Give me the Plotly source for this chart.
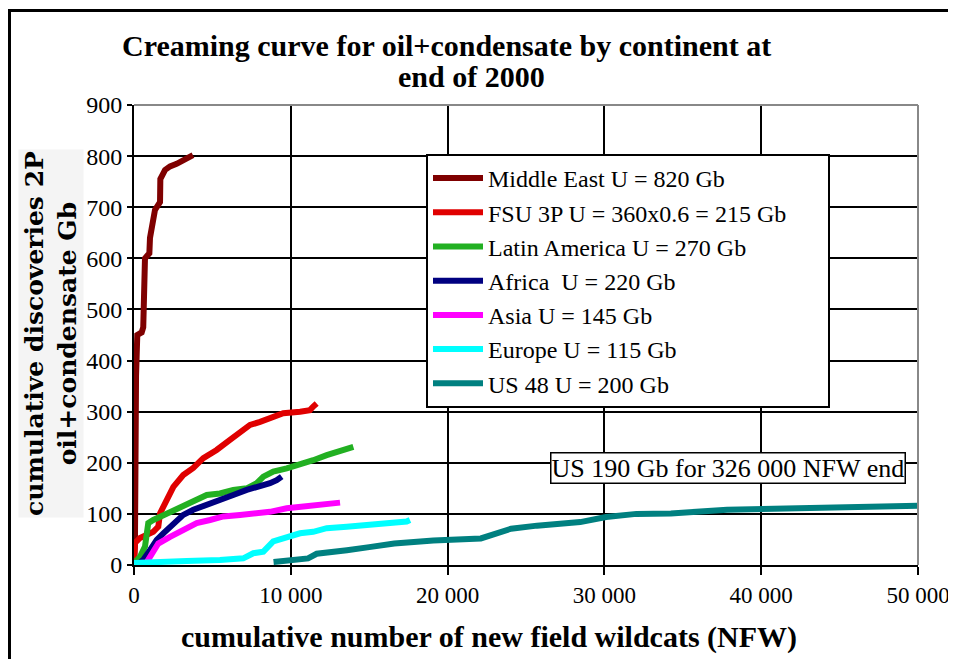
import plotly.graph_objects as go

# ---- data ----
me_x = [0, 60, 130, 150, 210, 490, 590, 700, 980, 1020, 1340, 1660, 1680, 1980, 2300, 2720, 3040, 3440, 3760]
me_y = [5, 40, 370, 400, 450, 455, 465, 600, 610, 640, 695, 710, 755, 773, 780, 785, 790, 795, 802]

fsu_x = [0, 64, 383, 810, 1230, 1550, 1660, 2085, 2510, 3140, 3780, 4420, 5270, 6120, 6760, 7400, 8040, 8880, 9520, 10590, 11220, 11430, 11650]
fsu_y = [6, 43, 53, 59, 65, 75, 101, 127, 153, 176, 190, 209, 225, 245, 261, 274, 280, 290, 297, 300, 303, 310, 316]

lat_x = [0, 383, 700, 910, 1230, 2085, 2930, 3780, 4640, 5480, 6330, 7190, 7830, 8250, 8880, 9740, 10590, 11430, 12290, 12930, 13350, 13990]
lat_y = [4, 16, 36, 82, 88, 101, 114, 127, 137, 140, 147, 150, 160, 173, 183, 189, 196, 205, 215, 222, 225, 231]

afr_x = [170, 590, 1020, 1450, 1870, 2510, 3140, 3780, 4640, 5480, 6330, 7190, 8040, 8670, 9100, 9420]
afr_y = [0, 10, 29, 49, 62, 82, 98, 108, 117, 127, 137, 147, 153, 160, 166, 173]

asia_x = [700, 810, 1130, 1550, 2300, 3140, 4000, 4850, 5700, 6760, 7610, 8670, 9740, 10590, 11430, 12290, 13140]
asia_y = [0, 6, 20, 42, 55, 68, 82, 88, 95, 98, 101, 104, 111, 114, 117, 121, 122]

eur_x = [0, 1230, 3360, 5480, 6970, 7610, 8250, 8880, 9740, 10590, 11430, 12290, 13570, 14840, 16120, 17390, 17600]
eur_y = [4, 6, 8, 10, 13, 23, 26, 46, 55, 62, 65, 72, 75, 78, 82, 85, 88]

us_x = [8900, 9700, 10600, 11100, 11650, 13000, 13580, 15000, 16600, 19090, 20500, 22120, 24050, 25700, 28460, 30110, 32040, 34240, 37820, 40580, 42230, 45260, 48020, 50000]
us_y = [6, 8, 12, 13, 22, 26, 29, 35, 42, 48, 50, 52, 71, 77, 84, 94, 100, 101, 108, 110, 112, 112, 116, 116]

names = [
    "Middle East U = 820 Gb",
    "FSU 3P U = 360x0.6 = 215 Gb",
    "Latin America U = 270 Gb",
    "Africa  U = 220 Gb",
    "Asia U = 145 Gb",
    "Europe U = 115 Gb",
    "US 48 U = 200 Gb",
]
colors = ["#7f0000", "#e00000", "#22b022", "#000080", "#ff00ff", "#00ffff", "#008080"]
series = [(me_x, me_y), (fsu_x, fsu_y), (lat_x, lat_y), (afr_x, afr_y),
          (asia_x, asia_y), (eur_x, eur_y), (us_x, us_y)]

x_tickvals = [0, 10000, 20000, 30000, 40000, 50000]
x_ticktext = ["0", "10 000", "20 000", "30 000", "40 000", "50 000"]
y_tickvals = [0, 100, 200, 300, 400, 500, 600, 700, 800, 900]

SERIF = "Liberation Serif"

fig = go.Figure()
for i, ((xs, ys), nm, c) in enumerate(zip(series, names, colors)):
    # trailing no-break spaces on the longest entry widen the legend box like the original
    label = nm + "\u00a0" * 6 if i == 1 else nm
    fig.add_trace(go.Scatter(x=xs, y=ys, name=label, mode="lines",
                             line=dict(color=c, width=6),
                             legendgroup=f"g{i}"))

# the page shows the figure with an 8px body margin
OFF = 8
W, H = 956 - OFF, 659 - OFF
# plot area in screenshot pixels
PX0, PX1, PY0, PY1 = 134, 918, 105, 565
L, R, T, B = PX0 - OFF, W - (PX1 - OFF), PY0 - OFF, H - (PY1 - OFF)


def px_x(p):
    return (p - PX0) / (PX1 - PX0)


def px_y(p):
    return (PY1 - p) / (PY1 - PY0)


fig.update_layout(
    width=W, height=H, autosize=False,
    margin=dict(l=L, r=R, t=T, b=B),
    paper_bgcolor="white", plot_bgcolor="white",
    font=dict(family=SERIF, size=23, color="black"),
    showlegend=True,
    legend=dict(x=px_x(426), y=px_y(154), xanchor="left", yanchor="top",
                bgcolor="white", bordercolor="black", borderwidth=2,
                font=dict(family=SERIF, size=24, color="black"),
                tracegroupgap=0, itemwidth=50),
    xaxis=dict(range=[0, 50000], tickvals=x_tickvals, ticktext=x_ticktext,
               showgrid=True, gridcolor="black", gridwidth=2,
               showline=True, linecolor="black", linewidth=2,
               ticks="outside", ticklen=8, tickwidth=2, tickcolor="black",
               zeroline=False, fixedrange=True, automargin=False,
               tickfont=dict(family=SERIF, size=23, color="black")),
    yaxis=dict(range=[0, 900], tickvals=y_tickvals,
               showgrid=True, gridcolor="black", gridwidth=2,
               showline=True, linecolor="black", linewidth=2,
               ticks="outside", ticklen=5, tickwidth=2, tickcolor="black",
               zeroline=False, fixedrange=True, automargin=False,
               tickfont=dict(family=SERIF, size=24, color="black")),
)

# gray top and right border of the plot area
fig.add_shape(type="line", xref="paper", yref="paper", x0=0, x1=1, y0=1, y1=1,
              line=dict(color="#888888", width=2))
fig.add_shape(type="line", xref="paper", yref="paper", x0=1, x1=1, y0=0, y1=1,
              line=dict(color="#888888", width=2))
# outer frame (cropped at right and bottom)
fig.add_shape(type="rect", xref="paper", yref="paper",
              x0=px_x(9.5), x1=px_x(1000), y0=px_y(10.5), y1=px_y(720),
              line=dict(color="black", width=3), fillcolor="rgba(0,0,0,0)")

# title (two lines, tight spacing)
fig.add_annotation(text="<b>Creaming curve for oil+condensate by continent at</b>",
                   xref="paper", yref="paper", x=px_x(446), y=px_y(45),
                   xanchor="center", yanchor="middle", showarrow=False,
                   font=dict(family=SERIF, size=30, color="black"))
fig.add_annotation(text="<b>end of 2000</b>",
                   xref="paper", yref="paper", x=px_x(471), y=px_y(76),
                   xanchor="center", yanchor="middle", showarrow=False,
                   font=dict(family=SERIF, size=30, color="black"))

# x axis title
fig.add_annotation(text="<b>cumulative number of new field wildcats (NFW)</b>",
                   xref="paper", yref="paper", x=px_x(489), y=px_y(637),
                   xanchor="center", yanchor="middle", showarrow=False,
                   font=dict(family=SERIF, size=30, color="black"))
# y axis title
fig.add_annotation(text="<b>cumulative discoveries 2P<br>oil+condensate Gb</b>",
                   xref="paper", yref="paper", x=px_x(51), y=px_y(334),
                   xanchor="center", yanchor="middle", showarrow=False,
                   textangle=-90, bgcolor="#f4f4f4",
                   font=dict(family="DejaVu Serif", size=25, color="black"))
# US note box
fig.add_annotation(text="US 190 Gb for 326 000 NFW end",
                   xref="paper", yref="paper", x=px_x(727.5), y=px_y(468.5),
                   xanchor="center", yanchor="middle", showarrow=False,
                   bgcolor="white", bordercolor="black", borderwidth=1.5, borderpad=0,
                   font=dict(family=SERIF, size=26, color="black"))

fig.write_html("out.html")
